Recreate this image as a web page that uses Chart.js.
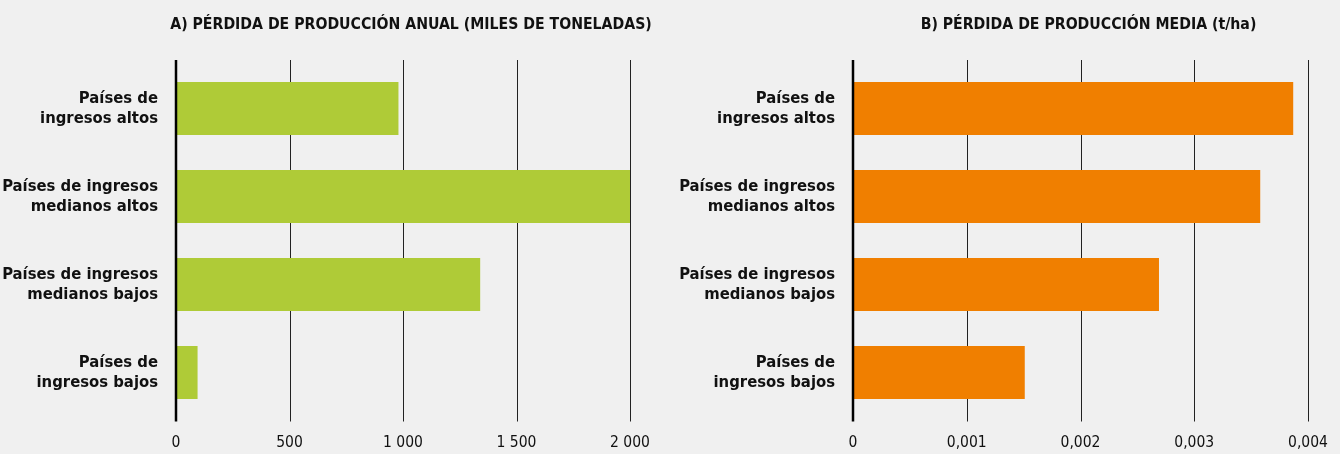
<!DOCTYPE html>
<html>
<head>
<meta charset="utf-8">
<script src="https://cdn.jsdelivr.net/npm/chart.js@4"></script>
<style>
  html, body { margin: 0; padding: 0; background: #f0f0f0; }
  .wrap { display: flex; width: 1340px; height: 454px; }
  .box { position: relative; width: 670px; height: 454px; }
</style>
</head>
<body>
<div class="wrap">
  <div class="box"><canvas id="chartA"></canvas></div>
  <div class="box"><canvas id="chartB"></canvas></div>
</div>
<script>
// categories (top to bottom)
const categories = [
    ['Países de', 'ingresos altos'],
    ['Países de ingresos', 'medianos altos'],
    ['Países de ingresos', 'medianos bajos'],
    ['Países de', 'ingresos bajos']
];

// A) annual production loss, thousand tonnes
const lossAnnual = [980, 2000, 1340, 95];
const ticksA = ['0', '500', '1 000', '1 500', '2 000'];

// B) mean production loss, t/ha
const lossMean = [0.00387, 0.00358, 0.00269, 0.00151];
const ticksB = ['0', '0,001', '0,002', '0,003', '0,004'];

const titleA = 'A) PÉRDIDA DE PRODUCCIÓN ANUAL (MILES DE TONELADAS)';
const titleB = 'B) PÉRDIDA DE PRODUCCIÓN MEDIA (t/ha)';

const FONT = '"Liberation Sans Narrow", "DejaVu Sans Condensed", "Roboto", sans-serif';

// grid lines a bit longer than the category band, zero line on top of bars
const gridPlugin = {
    id: 'gridLines',
    beforeDatasetsDraw(chart) {
        const { ctx, chartArea, scales } = chart;
        ctx.save();
        ctx.strokeStyle = '#222';
        ctx.lineWidth = 1;
        scales.x.ticks.forEach((t, i) => {
            if (i === 0) return;
            const x = Math.round(scales.x.getPixelForValue(t.value)) + 0.5;
            ctx.beginPath();
            ctx.moveTo(x, chartArea.top - 4.5);
            ctx.lineTo(x, chartArea.bottom + 5);
            ctx.stroke();
        });
        ctx.restore();
    },
    afterDatasetsDraw(chart) {
        const { ctx, chartArea, scales } = chart;
        const x = scales.x.getPixelForValue(0);
        ctx.save();
        ctx.strokeStyle = '#000';
        ctx.lineWidth = 2.5;
        ctx.beginPath();
        ctx.moveTo(x, chartArea.top - 4.5);
        ctx.lineTo(x, chartArea.bottom + 5);
        ctx.stroke();
        ctx.restore();
    }
};

const titlePlugin = {
    id: 'panelTitle',
    afterDraw(chart, args, opts) {
        const { ctx, chartArea } = chart;
        ctx.save();
        ctx.font = 'bold 15.7px ' + FONT;
        ctx.fillStyle = '#111';
        ctx.textAlign = 'center';
        ctx.textBaseline = 'alphabetic';
        ctx.fillText(opts.text, (chartArea.left + chartArea.right) / 2 + 8, 29);
        ctx.restore();
    }
};

function makeChart(id, values, tickLabels, max, step, color, title, axisWidth, rightPad) {
    return new Chart(document.getElementById(id), {
        type: 'bar',
        data: {
            labels: categories,
            datasets: [{
                data: values,
                backgroundColor: color,
                borderWidth: 0,
                categoryPercentage: 1,
                barPercentage: 0.6
            }]
        },
        plugins: [gridPlugin, titlePlugin],
        options: {
            indexAxis: 'y',
            responsive: true,
            maintainAspectRatio: false,
            animation: false,
            layout: { padding: { top: 64.5, right: 0, bottom: 0, left: 0 } },
            plugins: {
                legend: { display: false },
                tooltip: { enabled: false },
                panelTitle: { text: title }
            },
            scales: {
                x: {
                    min: 0,
                    max: max,
                    border: { display: false },
                    grid: { display: false, drawTicks: false },
                    afterFit: (s) => {
                        s.height = 37.5;
                        s.paddingLeft = 0;
                        s.paddingRight = rightPad;
                    },
                    afterBuildTicks: (s) => {
                        s.ticks = tickLabels.map((_, i) => ({ value: i * step }));
                    },
                    ticks: {
                        padding: 17,
                        color: '#111',
                        font: { family: FONT, size: 15.5 },
                        maxRotation: 0,
                        callback: (v, i) => tickLabels[i]
                    }
                },
                y: {
                    border: { display: false },
                    grid: { display: false, drawTicks: false },
                    afterFit: (s) => { s.width = axisWidth; },
                    ticks: {
                        padding: 18,
                        color: '#111',
                        font: { family: FONT, size: 16.5, weight: 'bold', lineHeight: 1.18 }
                    }
                }
            }
        }
    });
}

makeChart('chartA', lossAnnual, ticksA, 2000, 500, '#afcb37', titleA, 176, 40);
makeChart('chartB', lossMean, ticksB, 0.004, 0.001, '#f07f00', titleB, 183, 32);
</script>
</body>
</html>
